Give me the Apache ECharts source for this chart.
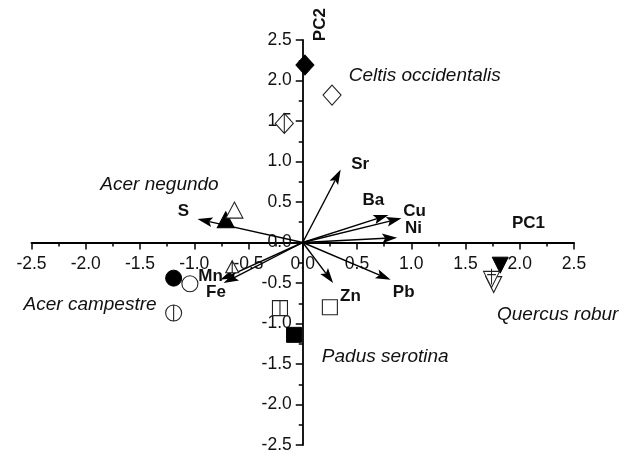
<!DOCTYPE html>
<html><head><meta charset="utf-8">
<script src="https://cdn.jsdelivr.net/npm/echarts@6/dist/echarts.min.js"></script>
<style>html,body{margin:0;padding:0;background:#fff}#c{width:633px;height:455px}</style>
</head><body><div id="c"></div>
<script>
// ---------- DATA ----------
const axisMin = -2.5, axisMax = 2.5, axisStep = 0.5;

const speciesNames = ['Celtis occidentalis', 'Acer negundo', 'Acer campestre', 'Padus serotina', 'Quercus robur'];
// three samples per species: filled, open, crossed
const celtisX = [0.02, 0.27, -0.17];    const celtisY = [2.19, 1.82, 1.47];
const negundoX = [-0.71, -0.63, -0.65]; const negundoY = [0.28, 0.40, -0.30];
const campestreX = [-1.19, -1.04, -1.19]; const campestreY = [-0.44, -0.51, -0.87];
const padusX = [-0.08, 0.25, -0.21];    const padusY = [-1.14, -0.80, -0.81];
const quercusX = [1.82, 1.76, 1.74];    const quercusY = [-0.28, -0.52, -0.44];
const sampleVariants = ['filled', 'open', 'crossed'];

const varNames = ['S', 'Sr', 'Ba', 'Cu', 'Ni', 'Mn', 'Fe', 'Zn', 'Pb'];
const loadX = [-0.97, 0.35, 0.79, 0.91, 0.87, -0.76, -0.73, 0.28, 0.81];
const loadY = [0.29, 0.90, 0.34, 0.30, 0.06, -0.46, -0.50, -0.50, -0.46];

// ---------- LAYOUT (label anchors in data units) ----------
const varLabelPos = [[-1.10, 0.38], [0.53, 0.97], [0.65, 0.52], [1.03, 0.38], [1.02, 0.17],
                     [-0.85, -0.42], [-0.80, -0.62], [0.44, -0.67], [0.93, -0.61]];
const speciesLabelPos = [[1.124, 2.06], [-1.32, 0.71], [-1.96, -0.77], [0.76, -1.41], [2.35, -0.89]];
const axisTitlePos = { PC1: [2.08, 0.24], PC2: [0.16, 2.69] };

const FONT = '"Liberation Sans", Arial, Helvetica, sans-serif';
const INK = '#111';

const GRID = { left: 31.5, right: 59, top: 40, bottom: 10 };
const W = 633, H = 455;
const plotW = W - GRID.left - GRID.right, plotH = H - GRID.top - GRID.bottom;
// move axes so they cross at the origin
const yAxisOffset = -plotW * (0 - axisMin) / (axisMax - axisMin);
const xAxisOffset = -plotH * (0 - axisMin) / (axisMax - axisMin);

const speciesX = [celtisX, negundoX, campestreX, padusX, quercusX];
const speciesY = [celtisY, negundoY, campestreY, padusY, quercusY];

const shapes = {
  diamond: { base: 'diamond', crossed: 'path://M0,-1 L1,0 L0,1 L-1,0 Z M0,-1 L0,1', size: [18, 20] },
  triangle: { base: 'triangle', crossed: 'path://M0,-1 L1,1 L-1,1 Z M0,-1 L0,1', size: [17, 16] },
  circle: { base: 'circle', crossed: 'path://M-1,0 A1,1 0 1,1 1,0 A1,1 0 1,1 -1,0 Z M0,-1 L0,1', size: [16, 16] },
  rect: { base: 'rect', crossed: 'path://M-1,-1 L1,-1 L1,1 L-1,1 Z M0,-1 L0,1', size: [15, 15] },
  down: { base: 'path://M-1,-1 L1,-1 L0,1 Z', crossed: 'path://M-1,-1 L1,-1 L0,1 Z M0,-1.35 L0,0.6 M-0.55,-0.6 L0.55,-0.6', size: [16, 16] }
};
const speciesShape = ['diamond', 'triangle', 'circle', 'rect', 'down'];

const scatterData = [];
speciesNames.forEach((sp, si) => {
  const sh = shapes[speciesShape[si]];
  sampleVariants.forEach((v, vi) => {
    let size = sh.size.slice();
    if (speciesShape[si] === 'down' && v === 'crossed') size = [16, 19];
    if (speciesShape[si] === 'triangle' && vi === 2) size = [13, 12];
    scatterData.push({
      value: [speciesX[si][vi], speciesY[si][vi]],
      symbol: v === 'crossed' ? sh.crossed : sh.base,
      symbolSize: size,
      itemStyle: v === 'filled'
        ? { color: '#000', borderColor: '#000', borderWidth: 1, opacity: 1 }
        : { color: '#fff', borderColor: '#222', borderWidth: 1.1, opacity: 1 }
    });
  });
});

const textItems = [];
varNames.forEach((n, i) => textItems.push({ value: varLabelPos[i], text: n, font: 'bold 17px ' + FONT, rot: 0 }));
speciesNames.forEach((n, i) => textItems.push({ value: speciesLabelPos[i], text: n, font: 'italic 19px ' + FONT, rot: 0 }));
textItems.push({ value: axisTitlePos.PC1, text: 'PC1', font: 'bold 17px ' + FONT, rot: 0 });
textItems.push({ value: axisTitlePos.PC2, text: 'PC2', font: 'bold 17px ' + FONT, rot: Math.PI / 2 });

const chart = echarts.init(document.getElementById('c'), null, { renderer: 'canvas' });

function axisCommon(offset, pos, margin) {
  return {
    type: 'value', min: axisMin, max: axisMax, interval: axisStep,
    position: pos, offset: offset,
    axisLine: { show: true, onZero: false, lineStyle: { color: '#000', width: 1.8 } },
    axisTick: { show: true, length: 7, lineStyle: { color: '#000', width: 1.5 } },
    minorTick: { show: true, splitNumber: 2, length: 4, lineStyle: { color: '#000', width: 1.5 } },
    splitLine: { show: false },
    axisLabel: { color: INK, fontFamily: FONT, fontSize: 17.5, margin: margin, hideOverlap: false, formatter: v => v.toFixed(1) }
  };
}

chart.setOption({
  animation: false,
  backgroundColor: '#fff',
  grid: { left: GRID.left, right: GRID.right, top: GRID.top, bottom: GRID.bottom, containLabel: false, outerBoundsMode: 'none' },
  xAxis: axisCommon(xAxisOffset, 'bottom', 13),
  yAxis: axisCommon(yAxisOffset, 'left', 11),
  series: [
    {
      type: 'custom', silent: true, clip: false,
      data: loadX.map((x, i) => [x, loadY[i]]),
      renderItem: function (params, api) {
        const p0 = api.coord([0, 0]);
        const p1 = api.coord([api.value(0), api.value(1)]);
        const dx = p1[0] - p0[0], dy = p1[1] - p0[1];
        const L = Math.hypot(dx, dy);
        const ux = dx / L, uy = dy / L, nx = -uy, ny = ux;
        const hl = 15, hw = 4.8, notch = 3;
        const bx = p1[0] - ux * hl, by = p1[1] - uy * hl;
        const qx = p1[0] - ux * (hl - notch), qy = p1[1] - uy * (hl - notch);
        return {
          type: 'group',
          children: [
            { type: 'line', shape: { x1: p0[0], y1: p0[1], x2: qx, y2: qy }, style: { stroke: '#000', lineWidth: 1.4 } },
            { type: 'polygon', shape: { points: [[p1[0], p1[1]], [bx + nx * hw, by + ny * hw], [qx, qy], [bx - nx * hw, by - ny * hw]] }, style: { fill: '#000' } }
          ]
        };
      }
    },
    {
      type: 'scatter', silent: true, data: scatterData, emphasis: { disabled: true }
    },
    {
      type: 'custom', silent: true, clip: false,
      data: textItems.map(t => t.value),
      renderItem: function (params, api) {
        const t = textItems[params.dataIndex];
        const p = api.coord([api.value(0), api.value(1)]);
        return {
          type: 'text', x: p[0], y: p[1], rotation: t.rot,
          style: { text: t.text, font: t.font, fill: INK, align: 'center', verticalAlign: 'middle', textAlign: 'center', textVerticalAlign: 'middle' }
        };
      }
    }
  ]
});
</script>
</body></html>
